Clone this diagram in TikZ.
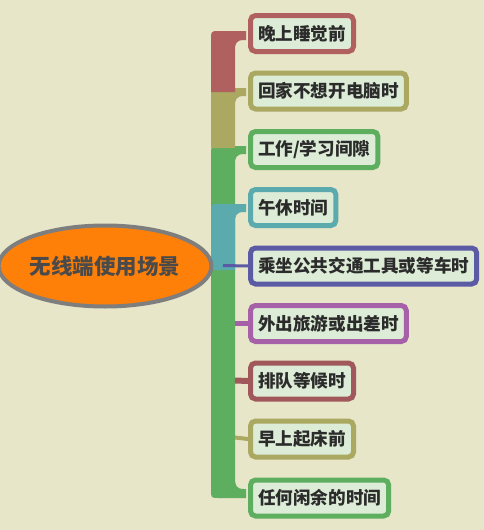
\documentclass[tikz,border=0pt]{standalone}
\usepackage{fontspec}
\setmainfont{Noto Sans CJK SC}
\usetikzlibrary{shapes.geometric}
\definecolor{bg}{HTML}{E7E6C9}
\definecolor{boxfill}{HTML}{DCECD6}
\definecolor{cred}{HTML}{B0605E}
\definecolor{colive}{HTML}{ABA862}
\definecolor{cgreen}{HTML}{5DAE5F}
\definecolor{cteal}{HTML}{5AAAAE}
\definecolor{cblue}{HTML}{5A5AA5}
\definecolor{cpurple}{HTML}{A660A8}
\definecolor{cdred}{HTML}{A0585A}
\definecolor{txt}{HTML}{2B2B2B}
\definecolor{etxt}{HTML}{4A4A4A}
\definecolor{eborder}{HTML}{7E7E7E}
\definecolor{eorange}{HTML}{FF8008}
\tikzset{
  leaf/.style={draw=#1, line width=5pt, rounded corners=5pt, fill=boxfill,
    anchor=west, minimum height=36pt, inner xsep=7.5pt, inner ysep=0pt,
    font=\fontsize{17.6pt}{17.6pt}\selectfont\bfseries, text=txt},
  stub/.style={draw=#1, line width=5pt}
}
\begin{document}
\begin{tikzpicture}[x=1pt,y=-1pt]
\fill[bg] (0,0) rectangle (484,530);
\useasboundingbox (0,0) rectangle (484,530);
% trunk: green (with top and bottom arm)
\fill[cgreen] (211,155) .. controls (211,146) .. (219,146) -- (246,146) -- (246,154) -- (244,154)
  .. controls (236,154) and (235,158) .. (235,164) -- (235,478)
  .. controls (235,485) and (236,489) .. (244,489) -- (246,489) -- (246,498) -- (219,498)
  .. controls (211,498) .. (211,490) -- cycle;
% teal
\fill[cteal] (211,212) .. controls (211,204) .. (219,204) -- (246,204) -- (246,212) -- (244,212)
  .. controls (236,212) and (235,216) .. (235,222) -- (235,270) -- (211,270) -- cycle;
% olive
\fill[colive] (211,97) .. controls (211,88) .. (219,88) -- (246,88) -- (246,96) -- (244,96)
  .. controls (236,96) and (235,100) .. (235,106) -- (235,148) -- (211,148) -- cycle;
% red
\fill[cred] (211,40) .. controls (211,31) .. (219,31) -- (246,31) -- (246,40) -- (244,40)
  .. controls (236,40) and (235,44) .. (235,50) -- (235,92) -- (211,92) -- cycle;
% nodes
\node[leaf=cred] (n1) at (248,33.5) {晚上睡觉前};
\node[leaf=colive] (n2) at (248,91) {回家不想开电脑时};
\node[leaf=cgreen] (n3) at (248,149.5) {工作/学习间隙};
\node[leaf=cteal] (n4) at (248,207.5) {午休时间};
\node[leaf=cblue] (n5) at (248,266) {乘坐公共交通工具或等车时};
\node[leaf=cpurple] (n6) at (248,323.5) {外出旅游或出差时};
\node[leaf=cdred] (n7) at (248,381) {排队等候时};
\node[leaf=colive] (n8) at (248,439) {早上起床前};
\node[leaf=cgreen] (n9) at (248,498) {任何闲余的时间};
% stubs
\coordinate (b5) at (223,265.5);
\coordinate (b6) at (235,323.5);
\coordinate (b7) at (235,380.5);
\coordinate (b8) at (235,437.5);
\draw[cblue, line width=3pt] (b5) -- (n5.west);
\draw[stub=cpurple] (b6) -- (n6.west);
\draw[cdred, line width=6pt] (b7) -- (n7.west);
\draw[colive, line width=4pt] (b8) -- (n8.west);
% root
\node[ellipse, draw=eborder, line width=4pt, fill=eorange, minimum width=206pt,
  minimum height=81pt, inner sep=0pt, text=etxt,
  font=\fontsize{21.5pt}{21.5pt}\selectfont\bfseries] (root) at (105,266) {无线端使用场景};
\end{tikzpicture}
\end{document}
